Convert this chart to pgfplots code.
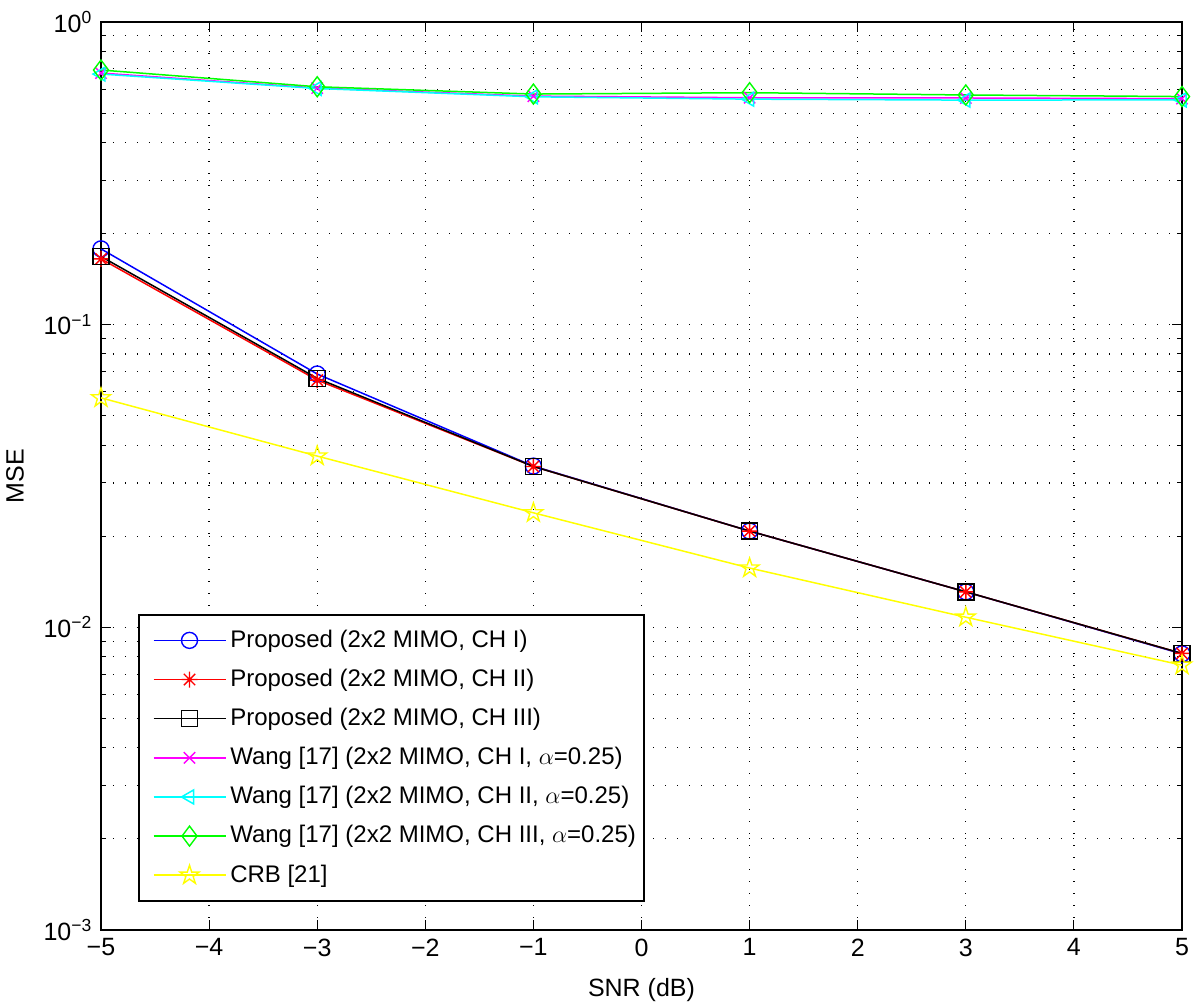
\documentclass[border=0pt]{standalone}
\usepackage{pgfplots}
\pgfplotsset{compat=1.18}
\usepackage{fontspec}
\setmainfont{Liberation Sans}
\usetikzlibrary{calc}
\pgfdeclareplotmark{pentastar}{%
 \pgfpathmoveto{\pgfqpoint{0pt}{\pgfplotmarksize}}%
 \pgfpathlineto{\pgfqpoint{-0.2245\pgfplotmarksize}{0.309\pgfplotmarksize}}%
 \pgfpathlineto{\pgfqpoint{-0.951\pgfplotmarksize}{0.309\pgfplotmarksize}}%
 \pgfpathlineto{\pgfqpoint{-0.363\pgfplotmarksize}{-0.118\pgfplotmarksize}}%
 \pgfpathlineto{\pgfqpoint{-0.588\pgfplotmarksize}{-0.809\pgfplotmarksize}}%
 \pgfpathlineto{\pgfqpoint{0pt}{-0.382\pgfplotmarksize}}%
 \pgfpathlineto{\pgfqpoint{0.588\pgfplotmarksize}{-0.809\pgfplotmarksize}}%
 \pgfpathlineto{\pgfqpoint{0.363\pgfplotmarksize}{-0.118\pgfplotmarksize}}%
 \pgfpathlineto{\pgfqpoint{0.951\pgfplotmarksize}{0.309\pgfplotmarksize}}%
 \pgfpathlineto{\pgfqpoint{0.2245\pgfplotmarksize}{0.309\pgfplotmarksize}}%
 \pgfpathclose\pgfusepathqstroke}
\pgfdeclareplotmark{mstar}{%
 \pgfpathmoveto{\pgfqpoint{-\pgfplotmarksize}{0pt}}\pgfpathlineto{\pgfqpoint{\pgfplotmarksize}{0pt}}%
 \pgfpathmoveto{\pgfqpoint{0pt}{-\pgfplotmarksize}}\pgfpathlineto{\pgfqpoint{0pt}{\pgfplotmarksize}}%
 \pgfpathmoveto{\pgfqpoint{-0.707\pgfplotmarksize}{-0.707\pgfplotmarksize}}\pgfpathlineto{\pgfqpoint{0.707\pgfplotmarksize}{0.707\pgfplotmarksize}}%
 \pgfpathmoveto{\pgfqpoint{-0.707\pgfplotmarksize}{0.707\pgfplotmarksize}}\pgfpathlineto{\pgfqpoint{0.707\pgfplotmarksize}{-0.707\pgfplotmarksize}}%
 \pgfusepathqstroke}
\definecolor{mgreen}{rgb}{0,1,0}
\definecolor{mcyan}{rgb}{0,1,1}
\definecolor{mmag}{rgb}{1,0,1}
\definecolor{myellow}{rgb}{1,1,0}
\begin{document}
\fontsize{12.5pt}{15pt}\selectfont
\begin{tikzpicture}
\begin{axis}[
 scale only axis, width=540.5pt, height=454pt,
 xmin=-5, xmax=5, ymin=1e-3, ymax=1, ymode=log,
 xtick={-5,...,5},
 xticklabels={−5,−4,−3,−2,−1,0,1,2,3,4,5},
 ytick={1e-3,1e-2,1e-1,1},
 yticklabels={10\textsuperscript{−3},10\textsuperscript{−2},10\textsuperscript{−1},10\textsuperscript{0}},
 ticklabel style={font=\fontsize{12.5pt}{15pt}\selectfont},
 tick align=inside, tick pos=both,
 major tick length=5pt, minor tick length=2.5pt,
 every tick/.style={black, line width=0.5pt},
 axis line style={black, line width=0.9pt},
 xmajorgrids, ymajorgrids, yminorgrids,
 major grid style={black, line width=0.6pt, dash pattern=on 0.6pt off 5.4pt},
 minor grid style={black, line width=0.6pt, dash pattern=on 0.6pt off 5.4pt},
 xlabel={SNR (dB)}, ylabel={MSE},
 xlabel style={at={(axis description cs:0.5,-0.066)}, anchor=center},
 ylabel style={at={(axis description cs:-0.0796,0.5)}, anchor=center},
 label style={font=\fontsize{12.5pt}{15pt}\selectfont},
 every axis plot/.append style={line width=0.75pt, mark size=4pt, mark options={solid, line width=0.7pt}},
 legend style={at={(axis description cs:0.0342,0.348)}, anchor=north west,
   draw=black, line width=0.8pt, font=\fontsize{12pt}{14.4pt}\selectfont,
   row sep=5pt, inner xsep=2pt, inner ysep=5.5pt},
 legend cell align=left,
 legend image code/.code={\path (0pt,0pt); \draw[line width=0.75pt, mark repeat=2,mark phase=2] plot coordinates {(5pt,0pt) (23pt,0pt) (41pt,0pt)};},
]
\addplot[blue, mark=o] coordinates {(-5,0.178) (-3,0.0687) (-1,0.0341) (1,0.0208) (3,0.0131) (5,0.00817)};
\addlegendentry{Proposed (2x2 MIMO, CH I)}
\addplot[red, mark=mstar] coordinates {(-5,0.165) (-3,0.0656) (-1,0.0340) (1,0.0208) (3,0.0131) (5,0.0082)};
\addlegendentry{Proposed (2x2 MIMO, CH II)}
\addplot[black, mark=square] coordinates {(-5,0.168) (-3,0.0665) (-1,0.0340) (1,0.0208) (3,0.0131) (5,0.0082)};
\addlegendentry{Proposed (2x2 MIMO, CH III)}
\addplot[mmag, mark=x] coordinates {(-5,0.678) (-3,0.605) (-1,0.569) (1,0.562) (3,0.561) (5,0.558)};
\addlegendentry{Wang [17] (2x2 MIMO, CH I, $\alpha$=0.25)}
\addplot[mcyan, mark=triangle, mark options={rotate=90}] coordinates {(-5,0.673) (-3,0.603) (-1,0.566) (1,0.556) (3,0.552) (5,0.553)};
\addlegendentry{Wang [17] (2x2 MIMO, CH II, $\alpha$=0.25)}
\addplot[mgreen, mark=diamond, mark size=5pt] coordinates {(-5,0.694) (-3,0.611) (-1,0.578) (1,0.584) (3,0.574) (5,0.567)};
\addlegendentry{Wang [17] (2x2 MIMO, CH III, $\alpha$=0.25)}
\addplot[myellow, mark=pentastar, mark size=5pt] coordinates {(-5,0.0573) (-3,0.0368) (-1,0.0239) (1,0.0157) (3,0.0108) (5,0.0075)};
\addlegendentry{CRB [21]}
\end{axis}
\pgfresetboundingbox
\path ($(current axis.south west)+(-50.5pt,-36.5pt)$) rectangle ($(current axis.north east)+(9pt,11pt)$);
\end{tikzpicture}
\end{document}
